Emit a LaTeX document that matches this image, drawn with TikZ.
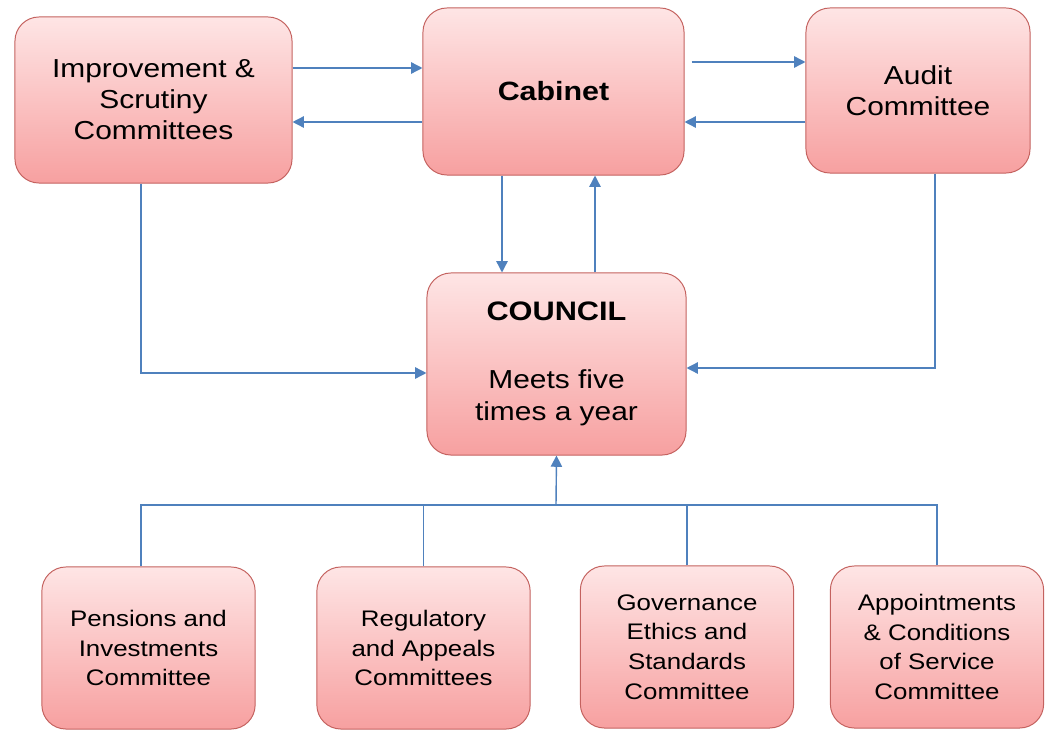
\documentclass[tikz,border=0pt]{standalone}
\usepackage{fontspec}
\setmainfont{Liberation Sans}[FakeStretch=1.15]
\usetikzlibrary{arrows.meta}

\definecolor{linkblue}{RGB}{79,129,189}
\definecolor{boxedge}{RGB}{196,98,95}
\definecolor{boxtop}{RGB}{254,229,229}
\definecolor{boxbot}{RGB}{247,160,160}

\begin{document}
\begin{tikzpicture}[x=0.025cm, y=-0.025cm,
  box/.style={draw=boxedge, line width=0.7pt, rounded corners=0.6cm, top color=boxtop, bottom color=boxbot, align=center, inner sep=0pt},
  topbox/.style={box, font=\fontsize{18.5}{22}\selectfont},
  lowbox/.style={box, minimum width=5.33cm, minimum height=4.05cm, font=\fontsize{16}{21}\selectfont},
  link/.style={draw=linkblue, line width=1pt},
  arr/.style={link, -{Triangle[length=8pt,width=8pt]}}]

\useasboundingbox (0,0) rectangle (1046,730);

% top row
\node[topbox, minimum width=6.925cm, minimum height=4.15cm] (imp) at (153.5,100) {Improvement \&\\Scrutiny\\Committees};
\node[topbox, minimum width=6.525cm, minimum height=4.175cm, font=\fontsize{18.8}{22}\selectfont\bfseries] (cab) at (553.5,91.5) {Cabinet};
\node[topbox, minimum width=5.6cm, minimum height=4.125cm] (aud) at (918,90.5) {Audit\\Committee};

% council
\node[box, minimum width=6.475cm, minimum height=4.55cm, font=\fontsize{18.5}{22.8}\selectfont] (cou) at (556.5,364) {{\fontsize{19}{22}\selectfont\bfseries COUNCIL}\\[25.6pt]Meets five\\times a year};

% bottom row
\node[lowbox] (pen) at (148.5,648) {Pensions and\\Investments\\Committee};
\node[lowbox] (reg) at (423.5,648) {Regulatory\\and Appeals\\Committees};
\node[lowbox] (gov) at (687,647) {Governance\\Ethics and\\Standards\\Committee};
\node[lowbox] (app) at (937,647) {Appointments\\\& Conditions\\of Service\\Committee};

\coordinate (r1) at (0,68);
\coordinate (r2) at (0,122);
\coordinate (r3) at (0,62);
\coordinate (c1) at (502,0);
\coordinate (c2) at (595,0);
\coordinate (k1) at (141,373);
\coordinate (k2) at (935,368);
\coordinate (bus) at (556,505);

\draw[arr] (imp.east |- r1) -- (cab.west |- r1);
\draw[arr] (cab.west |- r2) -- (imp.east |- r2);
\draw[arr, shorten <=5pt] (cab.east |- r3) -- (aud.west |- r3);
\draw[arr] (aud.west |- r2) -- (cab.east |- r2);
\draw[arr] (cab.south -| c1) -- (cou.north -| c1);
\draw[arr] (cou.north -| c2) -- (cab.south -| c2);
\draw[arr] (imp.south -| k1) |- (cou.west |- k1);
\draw[arr] (aud.south -| k2) |- (cou.east |- k2);

\draw[arr] (bus) -- (cou.south);
\draw[link] (pen.north -| k1) |- (bus -| app.north) -- (app.north);
\draw[link] (reg.north) -- (reg.north |- bus);
\draw[link] (gov.north) -- (gov.north |- bus);

\end{tikzpicture}
\end{document}
